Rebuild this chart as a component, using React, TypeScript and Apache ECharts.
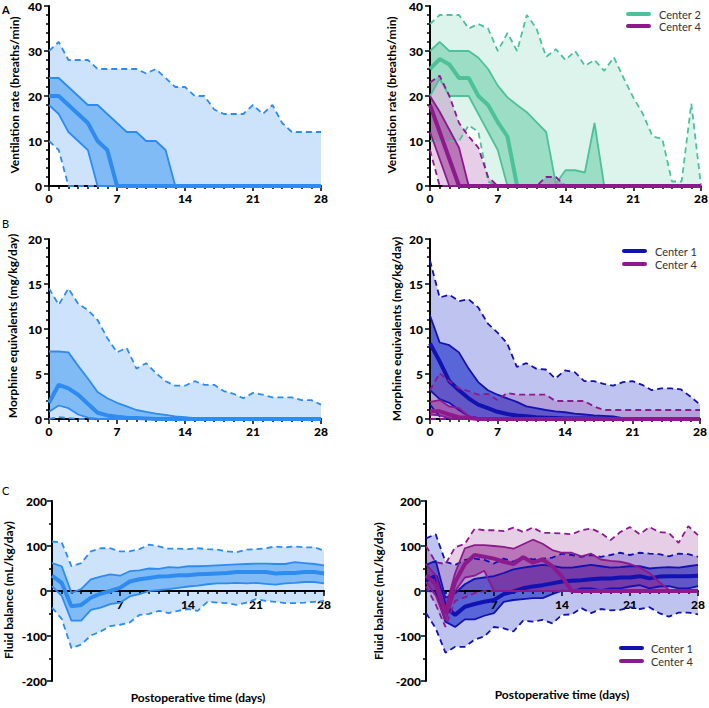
import React, { useEffect, useRef } from "react";
import * as echarts from "echarts";

const DAYS = [0, 1, 2, 3, 4, 5, 6, 7, 8, 9, 10, 11, 12, 13, 14, 15, 16, 17, 18, 19, 20, 21, 22, 23, 24, 25, 26, 27, 28];
const X_TICKS = [0, 7, 14, 21, 28];

// ---------- Panel A (ventilation rate, breaths/min) ----------
const aAll_hi = [30, 32, 28, 28, 28, 26, 26, 26, 26, 26, 25, 26, 24, 22, 22, 20, 20, 17, 16, 16, 16, 18, 16, 18, 14, 12, 12, 12, 12];
const aAll_q3 = [24, 24, 22, 20, 18, 18, 16, 14, 12, 12, 10, 10, 8, 0, 0, 0, 0, 0, 0, 0, 0, 0, 0, 0, 0, 0, 0, 0, 0];
const aAll_med = [20, 20, 18, 16, 14, 10, 8, 0, 0, 0, 0, 0, 0, 0, 0, 0, 0, 0, 0, 0, 0, 0, 0, 0, 0, 0, 0, 0, 0];
const aAll_q1 = [18, 16, 12, 10, 8, 0, 0, 0, 0, 0, 0, 0, 0, 0, 0, 0, 0, 0, 0, 0, 0, 0, 0, 0, 0, 0, 0, 0, 0];
const aAll_lo = [10, 8, 0, 0, 0, 0, 0, 0, 0, 0, 0, 0, 0, 0, 0, 0, 0, 0, 0, 0, 0, 0, 0, 0, 0, 0, 0, 0, 0];

const aC2_hi = [36, 38, 38, 38, 35, 36, 35, 30, 34, 30, 38, 35, 28.7, 30.4, 28, 30, 26.7, 28, 25.6, 28.6, 24, 19.7, 16, 11, 10.5, 1, 1, 18.3, 0];
const aC2_q3 = [30, 32, 30, 30, 30, 28.5, 26, 22.3, 19.7, 18, 16.4, 14.2, 12, 0.5, 3.5, 3.5, 3, 14, 0, 0, 0, 0, 0, 0, 0, 0, 0, 0, 0];
const aC2_med = [26, 28.2, 27, 24, 24, 20, 18, 14.2, 11, 0, 0, 0, 0, 0, 0, 0, 0, 0, 0, 0, 0, 0, 0, 0, 0, 0, 0, 0, 0];
const aC2_q1 = [20, 23.8, 20, 20, 20, 16, 12, 8, 0, 0, 0, 0, 0, 0, 0, 0, 0, 0, 0, 0, 0, 0, 0, 0, 0, 0, 0, 0, 0];
const aC2_lo = [10, 10, 10, 10, 13.5, 12, 1, 0, 0, 0, 0, 0, 0, 0, 0, 0, 0, 0, 0, 0, 0, 0, 0, 0, 0, 0, 0, 0, 0];

const aC4_hi = [23, 24.5, 20, 14, 11, 8.5, 2, 0, 0, 0, 0, 0, 2, 2, 0, 0, 0, 0, 0, 0, 0, 0, 0, 0, 0, 0, 0, 0, 0];
const aC4_q3 = [20, 16.5, 12.5, 8.5, 0, 0, 0, 0, 0, 0, 0, 0, 0, 0, 0, 0, 0, 0, 0, 0, 0, 0, 0, 0, 0, 0, 0, 0, 0];
const aC4_med = [18, 12, 6, 0, 0, 0, 0, 0, 0, 0, 0, 0, 0, 0, 0, 0, 0, 0, 0, 0, 0, 0, 0, 0, 0, 0, 0, 0, 0];
const aC4_q1 = [12, 6, 0, 0, 0, 0, 0, 0, 0, 0, 0, 0, 0, 0, 0, 0, 0, 0, 0, 0, 0, 0, 0, 0, 0, 0, 0, 0, 0];
const aC4_lo = [8, 0, 0, 0, 0, 0, 0, 0, 0, 0, 0, 0, 0, 0, 0, 0, 0, 0, 0, 0, 0, 0, 0, 0, 0, 0, 0, 0, 0];

// ---------- Panel B (morphine equivalents, mg/kg/day) ----------
const bAll_hi = [14.5, 12.7, 14.5, 12.8, 12.1, 11, 9, 7.4, 7.9, 5.6, 6.2, 5.1, 4.2, 3.7, 3.7, 4.2, 3.8, 3.8, 3.1, 2.8, 2.3, 2.9, 2.7, 2.4, 2.4, 2.4, 2.1, 2.1, 1.6];
const bAll_q3 = [7.5, 7.5, 7.4, 5.9, 4.5, 3, 2.3, 1.8, 1.4, 1.0, 0.8, 0.6, 0.45, 0.3, 0.2, 0.1, 0.05, 0, 0, 0, 0, 0, 0, 0, 0, 0, 0, 0, 0];
const bAll_med = [1.8, 3.8, 3.4, 2.7, 1.7, 0.7, 0.4, 0.25, 0.15, 0.1, 0.05, 0, 0, 0, 0, 0, 0, 0, 0, 0, 0, 0, 0, 0, 0, 0, 0, 0, 0];
const bAll_q1 = [0.8, 1.5, 1.2, 0.5, 0.15, 0, 0, 0, 0, 0, 0, 0, 0, 0, 0, 0, 0, 0, 0, 0, 0, 0, 0, 0, 0, 0, 0, 0, 0];
const bAll_lo = [0, 0.2, 0.1, 0, 0, 0, 0, 0, 0, 0, 0, 0, 0, 0, 0, 0, 0, 0, 0, 0, 0, 0, 0, 0, 0, 0, 0, 0, 0];

const bC1_hi = [17.6, 13.5, 13.8, 13.1, 13.3, 12.4, 10.6, 9.6, 8.4, 5.8, 6.2, 5.6, 5.5, 4.5, 5.4, 5.2, 4.2, 4.2, 3.9, 3.7, 4.1, 4.2, 3.8, 3.2, 3.4, 3.4, 3.3, 2.5, 1.6];
const bC1_q3 = [11.5, 8.5, 8.2, 7.4, 5.6, 4.1, 3.2, 2.7, 2.3, 1.9, 1.4, 1.2, 1.0, 0.85, 0.75, 0.6, 0.5, 0.4, 0.35, 0.3, 0.1, 0, 0, 0, 0, 0, 0, 0, 0];
const bC1_med = [8.4, 6.4, 4.2, 3.2, 2.3, 1.6, 1.2, 0.8, 0.55, 0.4, 0.3, 0.2, 0.15, 0.1, 0.05, 0.05, 0.05, 0.05, 0, 0, 0, 0, 0, 0, 0, 0, 0, 0, 0];
const bC1_q1 = [3.2, 2.2, 1.8, 1, 0.3, 0.1, 0, 0, 0, 0, 0, 0, 0, 0, 0, 0, 0, 0, 0, 0, 0, 0, 0, 0, 0, 0, 0, 0, 0];
const bC1_lo = [1.6, 0.3, 0, 0, 0, 0, 0, 0, 0, 0, 0, 0, 0, 0, 0, 0, 0, 0, 0, 0, 0, 0, 0, 0, 0, 0, 0, 0, 0];

const bC4_hi = [3.2, 5.1, 4.2, 3.4, 3.1, 2.7, 2.8, 2.1, 2.9, 2.7, 2.7, 2.7, 2.7, 2, 2, 2, 2, 1.4, 1, 1, 1, 1, 1, 1, 1, 1, 1, 1, 1];
const bC4_q3 = [1.9, 2.1, 1.4, 1.2, 0.3, 0.1, 0, 0, 0, 0, 0, 0, 0, 0, 0, 0, 0, 0, 0, 0, 0, 0, 0, 0, 0, 0, 0, 0, 0];
const bC4_med = [0.85, 0.85, 0.5, 0.2, 0.1, 0, 0, 0, 0, 0, 0, 0, 0, 0, 0, 0, 0, 0, 0, 0, 0, 0, 0, 0, 0, 0, 0, 0, 0];
const bC4_q1 = [0.5, 0.4, 0.1, 0, 0, 0, 0, 0, 0, 0, 0, 0, 0, 0, 0, 0, 0, 0, 0, 0, 0, 0, 0, 0, 0, 0, 0, 0, 0];
const bC4_lo = [0, 0, 0, 0, 0, 0, 0, 0, 0, 0, 0, 0, 0, 0, 0, 0, 0, 0, 0, 0, 0, 0, 0, 0, 0, 0, 0, 0, 0];

// ---------- Panel C (fluid balance, mL/kg/day) ----------
const cAll_hi = [110, 108, 55, 62, 88, 95, 95, 88, 88, 93, 103, 99, 94, 94, 93, 95, 93, 92, 88, 86, 92, 93, 95, 99, 97, 99, 97, 97, 90];
const cAll_q3 = [62, 55, -4, 4, 26, 32, 37, 34, 44, 46, 50, 49, 53, 52, 55, 55, 56, 57, 58, 59, 60, 61, 61, 60, 60, 64, 62, 60, 57];
const cAll_med = [34, 18, -34, -31, -15, -6, 0, 7, 21, 26, 29, 32, 33, 35, 35, 37, 38, 39, 40, 42, 42, 42, 42, 39, 40, 40, 42, 42, 39];
const cAll_q1 = [11, -11, -66, -66, -42, -37, -29, -26, -12, -7, 0, 2, 4, 7, 10, 12, 15, 17, 17, 18, 17, 18, 16, 14, 17, 18, 20, 20, 17];
const cAll_lo = [-37, -62, -127, -119, -99, -90, -78, -75, -70, -53, -51, -44, -49, -44, -40, -44, -24, -26, -27, -31, -26, -18, -22, -24, -27, -27, -26, -24, -22];

const cC1_hi = [117, 126, 65, 58, 69, 72, 69, 61, 72, 65, 76, 70, 72, 74, 83, 80, 76, 80, 76, 80, 85, 80, 85, 83, 82, 77, 83, 82, 76];
const cC1_q3 = [58, 67, -15, -5, 15, 27, 30, 33, 40, 48, 52, 55, 58, 56, 52, 52, 55, 58, 55, 52, 53, 55, 55, 50, 52, 53, 52, 55, 58];
const cC1_med = [24, 33, -35, -53, -35, -29, -24, -20, -7, -1, 6, 10, 13, 17, 21, 23, 24, 26, 28, 28, 30, 30, 33, 28, 32, 33, 33, 33, 34];
const cC1_q1 = [0, -1, -68, -80, -63, -63, -55, -49, -24, -20, -18, -16, -16, -7, 1, -1, 6, 6, 2, 6, 6, 10, 13, 6, 10, 11, 6, 6, 11];
const cC1_lo = [-49, -83, -137, -124, -124, -108, -101, -80, -83, -90, -66, -68, -64, -72, -53, -52, -38, -49, -40, -43, -42, -36, -40, -36, -49, -57, -48, -48, -52];

const cC4_hi = [100, 64, 60, 97, 105, 138, 135, 135, 133, 141, 131, 141, 129, 129, 128, 126, 135, 139, 129, 113, 131, 142, 126, 142, 131, 129, 107, 144, 124];
const cC4_q3 = [60, 35, -40, 40, 95, 102, 102, 100, 98, 94, 104, 114, 105, 91, 85, 85, 77, 83, 70, 67, 65, 60, 52, 40, 20, 3, 0, 0, 0];
const cC4_med = [35, 15, -50, 20, 60, 80, 76, 72, 65, 60, 75, 63, 70, 55, 32, 0, 0, 0, 0, 0, 0, 0, 0, 0, 0, 0, 0, 0, 0];
const cC4_q1 = [20, -10, -65, 0, 30, 34, 45, 0, 0, 0, 0, 0, 0, 0, 0, 0, 0, 0, 0, 0, 0, 0, 0, 0, 0, 0, 0, 0, 0];
const cC4_lo = [10, -30, -80, -22, -14, -5, 0, 0, 0, 0, 0, 0, 0, 0, 0, 0, 0, 0, 0, 0, 0, 0, 0, 0, 0, 0, 0, 0, 0];

const LEGEND_A = ["Center 2", "Center 4"];
const LEGEND_BC = ["Center 1", "Center 4"];

const FONT = "Lato, 'Open Sans', 'DejaVu Sans', sans-serif";

type Pal = { line: string; outer: string; inner: string };
const ALL: Pal = { line: "#2e8cf0", outer: "#cce3fb", inner: "#80bbf5" };
const C1: Pal = { line: "#1212b0", outer: "rgba(20,40,200,0.28)", inner: "rgba(20,40,200,0.6)" };
const C2: Pal = { line: "#4dc29a", outer: "rgba(77,194,154,0.19)", inner: "rgba(77,194,154,0.45)" };
const C4: Pal = { line: "#8c1a8c", outer: "rgba(140,30,140,0.22)", inner: "rgba(140,30,140,0.5)" };

type Fan = { hi: number[]; q3: number[]; med: number[]; q1: number[]; lo: number[] };

function bandSeries(id: string, axis: number, lo: number[], hi: number[], fill: string) {
  return {
    type: "custom",
    id,
    xAxisIndex: axis,
    yAxisIndex: axis,
    silent: true,
    animation: false,
    clip: true,
    z: 0,
    data: DAYS.map((d, i) => [d, lo[i], hi[i]]),
    encode: { x: 0, y: [1, 2] },
    renderItem: (params: any, api: any) => {
      if (params.dataIndex !== 0) return null;
      const top = DAYS.map((d, i) => api.coord([d, hi[i]]));
      const bottom = DAYS.map((d, i) => api.coord([d, lo[i]])).reverse();
      return {
        type: "polygon",
        shape: { points: top.concat(bottom) },
        style: { fill, stroke: "none" },
        silent: true,
      };
    },
  };
}

function fan(id: string, axis: number, f: Fan, c: Pal, name: string) {
  const pts = (arr: number[]) => DAYS.map((d, i) => [d, arr[i]]);
  const common: any = {
    type: "line",
    xAxisIndex: axis,
    yAxisIndex: axis,
    symbol: "none",
    showSymbol: false,
    silent: true,
    animation: false,
    z: 5,
  };
  const bands = [
    bandSeries(id + "-outer", axis, f.lo, f.hi, c.outer),
    bandSeries(id + "-inner", axis, f.q1, f.q3, c.inner),
  ];
  const lines = [
    { ...common, id: id + "-hi", data: pts(f.hi), lineStyle: { color: c.line, width: 1.8, type: [6, 4] } },
    { ...common, id: id + "-lo", data: pts(f.lo), lineStyle: { color: c.line, width: 1.8, type: [6, 4] } },
    { ...common, id: id + "-q3", data: pts(f.q3), lineStyle: { color: c.line, width: 1.8 } },
    { ...common, id: id + "-q1", data: pts(f.q1), lineStyle: { color: c.line, width: 1.8 } },
    { ...common, id: id + "-med", name, data: pts(f.med), itemStyle: { color: c.line }, lineStyle: { color: c.line, width: 4 } },
  ];
  return { bands, lines };
}

const GRIDS = [
  { left: 49, top: 6, width: 272, height: 180 },
  { left: 430, top: 6, width: 271, height: 180 },
  { left: 49, top: 239, width: 272, height: 180 },
  { left: 430, top: 239, width: 270, height: 180 },
  { left: 52, top: 501, width: 272, height: 180 },
  { left: 426, top: 501, width: 272, height: 180 },
];

function xAxis(grid: number, mid: boolean) {
  return {
    type: "value",
    gridIndex: grid,
    min: 0,
    max: 28,
    interval: 7,
    position: "bottom",
    offset: mid ? -GRIDS[grid].height / 2 : 0,
    z: 2,
    axisLine: { show: true, onZero: false, lineStyle: { color: "#000", width: 2 } },
    axisTick: { show: true, length: 5, lineStyle: { color: "#000", width: 1.5 } },
    minorTick: { show: true, splitNumber: 7, length: 3, lineStyle: { color: "#000", width: 1.5 } },
    splitLine: { show: false },
    minorSplitLine: { show: false },
    axisLabel: {
      color: "#000",
      fontSize: 12,
      fontWeight: 900,
      fontFamily: FONT,
      margin: mid ? 7 : 6,
      showMinLabel: true,
      showMaxLabel: true,
      formatter: (v: number) => (mid && v === 0 ? "" : X_TICKS.includes(v) ? String(v) : ""),
    },
  };
}

function yAxis(grid: number, min: number, max: number, interval: number, minor: number, margin: number) {
  return {
    type: "value",
    gridIndex: grid,
    min,
    max,
    interval,
    z: 2,
    axisLine: { show: true, onZero: false, lineStyle: { color: "#000", width: 2 } },
    axisTick: { show: true, length: 5, lineStyle: { color: "#000", width: 1.5 } },
    minorTick: { show: true, splitNumber: minor, length: 3, lineStyle: { color: "#000", width: 1.5 } },
    splitLine: { show: false },
    minorSplitLine: { show: false },
    axisLabel: { color: "#000", fontSize: 12, fontWeight: 900, fontFamily: FONT, margin, showMinLabel: true, showMaxLabel: true },
  };
}

function vText(text: string, x: number, y: number) {
  return {
    type: "text",
    x,
    y,
    rotation: Math.PI / 2,
    style: { text, fill: "#000", font: `bold 12px ${FONT}`, align: "center", verticalAlign: "middle" },
  };
}
function hText(text: string, x: number, y: number, font: string, align = "center", fill = "#000") {
  return { type: "text", x, y, style: { text, fill, font, align, verticalAlign: "middle" } };
}
function legend(names: string[], colors: string[], x: number, y: number, gap: number, textX: number) {
  const out: any[] = [];
  names.forEach((n, i) => {
    const yy = y + i * gap;
    out.push({ type: "line", shape: { x1: x, y1: yy, x2: x + 21, y2: yy }, style: { stroke: colors[i], lineWidth: 4, lineCap: "round" } });
    out.push(hText(n, textX, yy, `11px ${FONT}`, "left", "#333"));
  });
  return out;
}

export default function App() {
  const ref = useRef<HTMLDivElement>(null);
  useEffect(() => {
    if (!ref.current) return;
    const chart = echarts.init(ref.current, undefined, { renderer: "svg" });

    const fA = fan("aAll", 0, { hi: aAll_hi, q3: aAll_q3, med: aAll_med, q1: aAll_q1, lo: aAll_lo }, ALL, "All");
    const fA2 = fan("aC2", 1, { hi: aC2_hi, q3: aC2_q3, med: aC2_med, q1: aC2_q1, lo: aC2_lo }, C2, "Center 2");
    const fA4 = fan("aC4", 1, { hi: aC4_hi, q3: aC4_q3, med: aC4_med, q1: aC4_q1, lo: aC4_lo }, C4, "Center 4");
    const fB = fan("bAll", 2, { hi: bAll_hi, q3: bAll_q3, med: bAll_med, q1: bAll_q1, lo: bAll_lo }, ALL, "All");
    const fB1 = fan("bC1", 3, { hi: bC1_hi, q3: bC1_q3, med: bC1_med, q1: bC1_q1, lo: bC1_lo }, C1, "Center 1");
    const fB4 = fan("bC4", 3, { hi: bC4_hi, q3: bC4_q3, med: bC4_med, q1: bC4_q1, lo: bC4_lo }, C4, "Center 4");
    const fC = fan("cAll", 4, { hi: cAll_hi, q3: cAll_q3, med: cAll_med, q1: cAll_q1, lo: cAll_lo }, ALL, "All");
    const fC1 = fan("cC1", 5, { hi: cC1_hi, q3: cC1_q3, med: cC1_med, q1: cC1_q1, lo: cC1_lo }, C1, "Center 1");
    const fC4 = fan("cC4", 5, { hi: cC4_hi, q3: cC4_q3, med: cC4_med, q1: cC4_q1, lo: cC4_lo }, C4, "Center 4");

    const series = [
      ...fA.bands, ...fA.lines,
      ...fA2.bands, ...fA4.bands, ...fA2.lines, ...fA4.lines,
      ...fB.bands, ...fB.lines,
      ...fB1.bands, ...fB4.bands, ...fB1.lines, ...fB4.lines,
      ...fC.bands, ...fC.lines,
      ...fC1.bands, ...fC4.bands, ...fC1.lines, ...fC4.lines,
    ];

    const option: any = {
      animation: false,
      backgroundColor: "#fff",
      grid: GRIDS.map((g) => ({ ...g, containLabel: false, outerBoundsMode: "none" })),
      xAxis: [xAxis(0, false), xAxis(1, false), xAxis(2, false), xAxis(3, false), xAxis(4, true), xAxis(5, true)],
      yAxis: [
        yAxis(0, 0, 40, 10, 5, 7),
        yAxis(1, 0, 40, 10, 5, 7),
        yAxis(2, 0, 20, 5, 5, 7),
        yAxis(3, 0, 20, 5, 5, 7),
        yAxis(4, -200, 200, 100, 2, 5),
        yAxis(5, -200, 200, 100, 2, 5),
      ],
      series,
      graphic: [
        hText("A", 2, 9, `bold 11px ${FONT}`, "left"),
        hText("B", 2, 223, `11px ${FONT}`, "left"),
        hText("C", 2, 490, `11px ${FONT}`, "left"),
        vText("Ventilation rate (breaths/min)", 14, 95),
        vText("Ventilation rate (breaths/min)", 391, 95),
        vText("Morphine equivalents (mg/kg/day)", 12, 326),
        vText("Morphine equivalents (mg/kg/day)", 396, 329),
        vText("Fluid balance (mL/kg/day)", 8, 590),
        vText("Fluid balance (mL/kg/day)", 378, 591),
        hText("Postoperative time (days)", 198, 697, `bold 12px ${FONT}`),
        hText("Postoperative time (days)", 562, 694, `bold 12px ${FONT}`),
        ...legend(LEGEND_A, [C2.line, C4.line], 628, 14, 12, 659),
        ...legend(LEGEND_BC, [C1.line, C4.line], 624, 251, 13, 655),
        ...legend(LEGEND_BC, [C1.line, C4.line], 621, 648, 13, 651),
      ],
    };
    chart.setOption(option);
    return () => chart.dispose();
  }, []);
  return <div ref={ref} style={{ position: "absolute", left: 0, top: 0, width: 709, height: 708, background: "#fff" }} />;
}
